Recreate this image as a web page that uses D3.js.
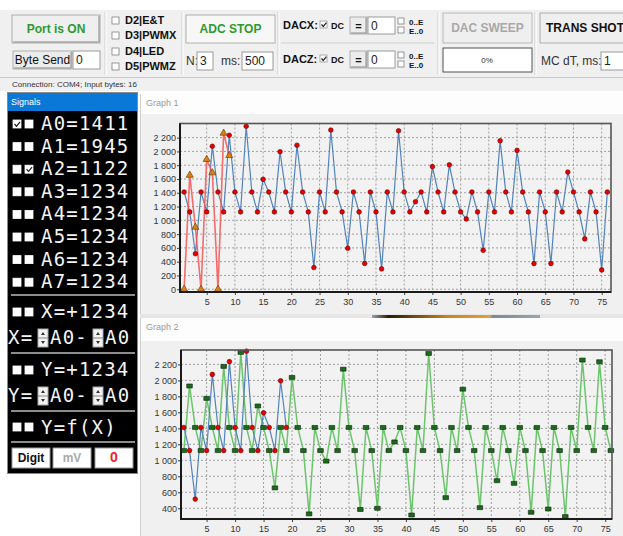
<!DOCTYPE html>
<html>
<head>
<meta charset="utf-8">
<script src="https://cdn.jsdelivr.net/npm/d3@7"></script>
<style>
  body { margin: 0; background: #fff; }
  svg { display: block; font-family: "Liberation Sans", Arial, sans-serif; }
</style>
</head>
<body>
<div id="app"></div>
<script>
const signalLabels = ["A0=1411", "A1=1945", "A2=1122", "A3=1234", "A4=1234", "A5=1234", "A6=1234", "A7=1234"];
const signalChecks = [[1, 0], [0, 0], [0, 1], [0, 0], [0, 0], [0, 0], [0, 0], [0, 0]];
const portChecks = ["D2|E&T", "D3|PWMX", "D4|LED", "D5|PWMZ"];

// graph 1: blue line with red dots, red line with orange triangles
const g1Blue = [1411, 1122, 515, 1411, 1122, 2075, 1411, 1122, 2235, 1411,
  1122, 2365, 1411, 1122, 1595, 1411, 1122, 1995, 1411, 1122,
  2090, 1411, 1122, 315, 1411, 1122, 2310, 1411, 1122, 595,
  1411, 1122, 375, 1411, 1122, 295, 1411, 1122, 2300, 1411,
  1122, 1270, 1411, 1122, 1780, 1411, 1122, 1805, 1411, 1122,
  1020, 1411, 1122, 565, 1411, 1122, 2155, 1411, 1122, 2015,
  1411, 1122, 372, 1411, 1122, 372, 1411, 1122, 1700, 1411,
  1122, 730, 1411, 1122, 280, 1411];
const g1Red = [0, 1655, 900, 0, 1885, 1690, 0, 2265, 1940];

// graph 2: green line with squares, blue line with red dots
const g2Green = [1122, 1930, 1411, 1122, 1775, 1411, 1122, 2175, 1411, 1122,
  2350, 1411, 1122, 1680, 1411, 1122, 655, 1411, 1122, 2037,
  1411, 1122, 330, 1411, 1122, 990, 1411, 1122, 2140, 1411,
  1122, 385, 1411, 1122, 400, 1411, 1122, 1230, 1411, 1122,
  316, 1411, 1122, 2337, 1411, 1122, 533, 1411, 1122, 1890,
  1411, 1122, 408, 1411, 1122, 745, 1411, 1122, 712, 1411,
  1122, 350, 1411, 1122, 391, 1411, 1122, 296, 1411, 1122,
  2254, 1411, 1122, 2233, 1411, 1122];
const g2Blue = [1411, 1122, 515, 1411, 1122, 2075, 1411, 1122, 2235, 1411,
  1122, 2365, 1411, 1122, 1595, 1411, 1122, 1995, 1411];

const xTicks = [5, 10, 15, 20, 25, 30, 35, 40, 45, 50, 55, 60, 65, 70, 75];
const g1YTicks = [0, 200, 400, 600, 800, 1000, 1200, 1400, 1600, 1800, 2000, 2200];
const g2YTicks = [400, 600, 800, 1000, 1200, 1400, 1600, 1800, 2000, 2200];

const W = 623, H = 536;
const svg = d3.select("#app").append("svg").attr("width", W).attr("height", H);

const fmt = d3.formatLocale({ decimal: ".", thousands: " ", grouping: [3], currency: ["", ""] }).format(",d");

// ---- small widget helpers ----
const button = (x, y, w, h, label, color, opts = {}) => {
    const g = svg.append("g");
    g.append("rect").attr("x", x).attr("y", y).attr("width", w).attr("height", h)
        .attr("fill", opts.fill || "#ececec").attr("stroke", opts.stroke || "#adadad");
    if (opts.raised) {
        g.append("path").attr("d", `M${x + 1},${y + h - 1}H${x + w - 1}V${y + 1}`)
            .attr("fill", "none").attr("stroke", "#8a8a8a");
    }
    g.append("text").attr("x", opts.tx !== undefined ? opts.tx : x + w / 2).attr("y", y + h / 2 + 4)
        .attr("text-anchor", opts.tx !== undefined ? "start" : "middle")
        .attr("font-size", opts.size || 12).attr("font-weight", opts.bold === false ? "normal" : "bold")
        .attr("fill", color).text(label);
};
const inputBox = (x, y, w, h, val) => {
    svg.append("rect").attr("x", x).attr("y", y).attr("width", w).attr("height", h)
        .attr("fill", "#fff").attr("stroke", "#9a9a9a");
    svg.append("text").attr("x", x + 3).attr("y", y + h / 2 + 4).attr("font-size", 12)
        .attr("fill", "#222").text(val);
};
const checkBox = (x, y, s, checked, stroke = "#808080") => {
    svg.append("rect").attr("x", x).attr("y", y).attr("width", s).attr("height", s)
        .attr("fill", "#fff").attr("stroke", stroke).attr("stroke-width", 0.8);
    if (checked) {
        svg.append("path").attr("d", `M${x + 1.5},${y + s / 2}l${s * 0.25},${s * 0.28}l${s * 0.45},${-s * 0.55}`)
            .attr("fill", "none").attr("stroke", "#222").attr("stroke-width", 1.2);
    }
};
const label = (x, y, t, size, opts = {}) => svg.append("text").attr("x", x).attr("y", y)
    .attr("font-size", size).attr("font-weight", opts.bold ? "bold" : "normal")
    .attr("fill", opts.fill || "#111").attr("text-anchor", opts.anchor || "start").text(t);

// ---- toolbar ----
svg.append("rect").attr("x", 0).attr("y", 10).attr("width", W).attr("height", 81).attr("fill", "#f0f0f0");
[105, 182, 278, 438, 535].forEach(sx => {
    svg.append("line").attr("x1", sx).attr("x2", sx).attr("y1", 12).attr("y2", 75).attr("stroke", "#cfcfcf");
    svg.append("line").attr("x1", sx + 1).attr("x2", sx + 1).attr("y1", 12).attr("y2", 75).attr("stroke", "#fff");
});

button(12, 15, 88, 28, "Port is ON", "#2e9a2e", { raised: true, fill: "#efefef" });
button(13, 51, 59, 18, "Byte Send", "#111", { bold: false, raised: true });
inputBox(73, 51, 27, 18, "0");

portChecks.forEach((p, i) => {
    const yy = [20, 35, 51, 66][i];
    checkBox(112, yy - 3, 7, false);
    label(125, yy + 4, p, 11, { bold: true });
});

button(186, 15, 89, 28, "ADC STOP", "#2e9a2e", { fill: "#f7f7f7", stroke: "#b0b0b0" });
label(186, 65, "N:", 12, { fill: "#333" });
inputBox(197, 52, 16, 18, "3");
label(221, 65, "ms:", 12, { fill: "#333" });
inputBox(242, 52, 31, 18, "500");

// DAC rows
[{ name: "DACX:", y: 17 }, { name: "DACZ:", y: 51 }].forEach(r => {
    label(283, r.y + 12, r.name, 11, { bold: true });
    checkBox(320, r.y + 4, 7, true, "#999");
    label(331, r.y + 12, "DC", 9, { bold: true });
    button(350, r.y, 17, 17, "=", "#111", { size: 11, raised: true });
    inputBox(368, r.y, 27, 17, "0");
    checkBox(398, r.y + 1, 6, false);
    checkBox(398, r.y + 10, 6, false);
    label(409, r.y + 8, "0..E", 8, { bold: true });
    label(409, r.y + 17, "E..0", 8, { bold: true });
});
svg.append("line").attr("x1", 281).attr("x2", 434).attr("y1", 43).attr("y2", 43).attr("stroke", "#cfcfcf");

button(443, 13, 89, 30, "DAC SWEEP", "#a8a8a8", { fill: "#efefef", stroke: "#b8b8b8" });
svg.append("rect").attr("x", 443).attr("y", 48).attr("width", 89).attr("height", 24)
    .attr("fill", "#fff").attr("stroke", "#505050");
label(487, 63, "0%", 8, { anchor: "middle", fill: "#333" });

button(540, 13, 100, 30, "TRANS SHOT", "#111", { tx: 546, fill: "#efefef" });
label(541, 65, "MC dT, ms:", 12, { fill: "#333" });
inputBox(601, 52, 30, 18, "1");

// status bar
svg.append("line").attr("x1", 0).attr("x2", W).attr("y1", 77.5).attr("y2", 77.5).attr("stroke", "#c8c8c8");
label(12, 87, "Connection: COM4;   Input bytes: 16", 8, { fill: "#333" });

// ---- signals panel ----
svg.append("rect").attr("x", 7.5).attr("y", 92.5).attr("width", 130).attr("height", 381)
    .attr("fill", "#000").attr("stroke", "#8a8a8a");
svg.append("rect").attr("x", 8).attr("y", 93).attr("width", 129).attr("height", 18).attr("fill", "#0a78d6");
label(11, 105, "Signals", 9, { fill: "#fff" });

const monoText = (x, y, t) => svg.append("text").attr("x", x).attr("y", y)
    .attr("font-family", "'DejaVu Sans Mono', monospace").attr("font-size", 19)
    .attr("letter-spacing", 1.2).attr("fill", "#f4f4f4").text(t);

signalLabels.forEach((s, i) => {
    const by = 130 + i * 22.6;
    checkBox(13, by - 10, 8, signalChecks[i][0], "#fff");
    checkBox(25, by - 10, 8, signalChecks[i][1], "#fff");
    monoText(41, by, s);
});

const sep = y => svg.append("line").attr("x1", 11).attr("x2", 135).attr("y1", y).attr("y2", y)
    .attr("stroke", "#8c8c8c").attr("stroke-width", 2);
[295, 353, 411, 442].forEach(sep);

const spinner = (x, y) => {
    svg.append("rect").attr("x", x).attr("y", y).attr("width", 10).attr("height", 18).attr("fill", "#f2f2f2").attr("stroke", "#aaa");
    svg.append("line").attr("x1", x).attr("x2", x + 10).attr("y1", y + 9).attr("y2", y + 9).attr("stroke", "#888");
    svg.append("path").attr("d", `M${x + 3},${y + 6}l2,-3l2,3z M${x + 3},${y + 12}l2,3l2,-3z`).attr("fill", "#333");
};

[{ v: "X=+1234", y: 318, n: "X=", y2: 344 }, { v: "Y=+1234", y: 376, n: "Y=", y2: 402 }].forEach(r => {
    checkBox(13, r.y - 10, 8, false, "#fff");
    checkBox(25, r.y - 10, 8, false, "#fff");
    monoText(41, r.y, r.v);
    monoText(8, r.y2, r.n);
    spinner(38, r.y2 - 15);
    monoText(50, r.y2, "A0-");
    spinner(93, r.y2 - 15);
    monoText(105, r.y2, "A0");
});
checkBox(13, 423, 8, false, "#fff");
checkBox(25, 423, 8, false, "#fff");
monoText(41, 434, "Y=f(X)");

button(12, 448, 38, 20, "Digit", "#111", { fill: "#fff", stroke: "#999", size: 12 });
button(53, 448, 38, 20, "mV", "#a8a8a8", { fill: "#fff", stroke: "#999", size: 12 });
button(95, 448, 38, 20, "0", "#e8262a", { fill: "#fff", stroke: "#999", size: 14 });

// ---- graph windows ----
const drawGraph = cfg => {
    svg.append("rect").attr("x", 140).attr("y", cfg.winTop).attr("width", W - 140).attr("height", cfg.winBottom - cfg.winTop)
        .attr("fill", "#f0f0f0");
    svg.append("rect").attr("x", 141).attr("y", cfg.winTop).attr("width", W - 141).attr("height", cfg.headH)
        .attr("fill", "#fdfdfd");
    svg.append("line").attr("x1", 140.5).attr("x2", 140.5).attr("y1", cfg.winTop).attr("y2", cfg.winBottom).attr("stroke", "#d0d0d0");
    label(146, cfg.winTop + 12, cfg.title, 9, { fill: "#9a9a9a" });

    const x = d3.scaleLinear().domain(cfg.xDomain).range([cfg.left, cfg.right]);
    const y = d3.scaleLinear().domain(cfg.yDomain).range([cfg.bottom, cfg.top]);

    svg.append("rect").attr("x", cfg.left).attr("y", cfg.top).attr("width", cfg.right - cfg.left).attr("height", cfg.bottom - cfg.top)
        .attr("fill", "#f2f2f2");

    // dotted grid
    const grid = svg.append("g").attr("stroke", "#a0a0a0").attr("stroke-dasharray", "2,2");
    xTicks.forEach(t => grid.append("line").attr("x1", x(t)).attr("x2", x(t)).attr("y1", cfg.top).attr("y2", cfg.bottom));
    cfg.yTicks.forEach(t => grid.append("line").attr("x1", cfg.left).attr("x2", cfg.right).attr("y1", y(t)).attr("y2", y(t)));

    // axes
    const xAxis = svg.append("g").attr("transform", `translate(0,${cfg.bottom})`)
        .call(d3.axisBottom(x).tickValues(xTicks).tickSize(3).tickPadding(4));
    const yAxis = svg.append("g").attr("transform", `translate(${cfg.left},0)`)
        .call(d3.axisLeft(y).tickValues(cfg.yTicks).tickFormat(fmt).tickSize(3).tickPadding(1));
    [xAxis, yAxis].forEach(a => {
        a.select(".domain").remove();
        a.selectAll("text").attr("font-size", 9).attr("fill", "#333").attr("font-family", "'Liberation Sans', Arial, sans-serif");
        a.selectAll("line").attr("stroke", "#444");
    });

    const line = d3.line().x((d, i) => x(i + 1)).y(d => y(d));
    cfg.series.forEach(s => {
        svg.append("path").datum(s.values).attr("d", line).attr("fill", "none")
            .attr("stroke", s.color).attr("stroke-width", s.width).attr("stroke-opacity", s.opacity || 1);
    });
    cfg.series.forEach(s => {
        const m = svg.append("g").selectAll("path").data(s.values).join("path")
            .attr("transform", (d, i) => `translate(${x(i + 1)},${y(d)})`)
            .attr("fill", s.markFill).attr("stroke", s.markStroke).attr("stroke-width", 0.6);
        if (s.mark === "circle") m.attr("d", d3.symbol(d3.symbolCircle, 17));
        if (s.mark === "triangle") m.attr("d", d3.symbol(d3.symbolTriangle, 22));
        if (s.mark === "square") m.attr("d", "M-2.8,-2H2.8V2H-2.8Z");
    });

    // frame
    svg.append("rect").attr("x", cfg.left).attr("y", cfg.top).attr("width", cfg.right - cfg.left).attr("height", cfg.bottom - cfg.top)
        .attr("fill", "none").attr("stroke", "#555").attr("stroke-width", 1.6);
    svg.append("path").attr("d", `M${cfg.left},${cfg.top}V${cfg.bottom}H${cfg.right}`)
        .attr("fill", "none").attr("stroke", "#1a1a1a").attr("stroke-width", 2);
};

drawGraph({
    title: "Graph 1", winTop: 94, winBottom: 314, headH: 20,
    left: 180, right: 611, top: 123.5, bottom: 292,
    xDomain: [0.27, 76.65], yDomain: [-40, 2405], yTicks: g1YTicks,
    series: [
        { values: g1Blue, color: "#5283bb", width: 1.2, mark: "circle", markFill: "#e60000", markStroke: "#6a0000" },
        { values: g1Red, color: "#f45555", width: 1.6, opacity: 0.85, mark: "triangle", markFill: "#d98412", markStroke: "#5a3000" }
    ]
});

// strip between the windows
const grad = svg.append("defs").append("linearGradient").attr("id", "strip");
[["0%", "#a0a0a0"], ["10%", "#2a1a08"], ["45%", "#c8861e"], ["70%", "#e0a040"], ["72%", "#7a8a96"], ["100%", "#9aa6b0"]]
    .forEach(s => grad.append("stop").attr("offset", s[0]).attr("stop-color", s[1]));
svg.append("rect").attr("x", 140).attr("y", 314).attr("width", W - 140).attr("height", 4).attr("fill", "#e6e6e6");
svg.append("rect").attr("x", 372).attr("y", 315).attr("width", 168).attr("height", 3).attr("fill", "url(#strip)");

drawGraph({
    title: "Graph 2", winTop: 318, winBottom: 536, headH: 23,
    left: 181, right: 612, top: 350, bottom: 519,
    xDomain: [0.5, 76.2], yDomain: [266, 2380], yTicks: g2YTicks,
    series: [
        { values: g2Green, color: "#6cc46c", width: 1.5, mark: "square", markFill: "#1d6a1d", markStroke: "#0a250a" },
        { values: g2Blue, color: "#5283bb", width: 1.2, mark: "circle", markFill: "#e60000", markStroke: "#6a0000" }
    ]
});
</script>
</body>
</html>
